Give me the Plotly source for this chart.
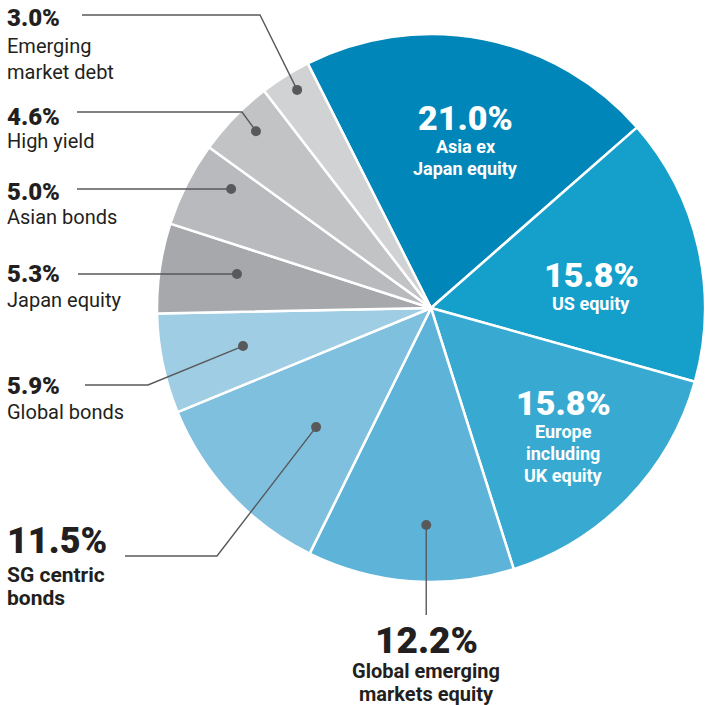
import math
import plotly.graph_objects as go

# ---- data ----
categories = ["Asia ex Japan equity", "US equity", "Europe including UK equity",
              "Global emerging markets equity", "SG centric bonds", "Global bonds",
              "Japan equity", "Asian bonds", "High yield", "Emerging market debt"]
values = [21.0, 15.8, 15.8, 12.2, 11.5, 5.9, 5.3, 5.0, 4.6, 3.0]
label_lines = [["Asia ex", "Japan equity"], ["US equity"], ["Europe", "including", "UK equity"],
               ["Global emerging", "markets equity"], ["SG centric", "bonds"], ["Global bonds"],
               ["Japan equity"], ["Asian bonds"], ["High yield"], ["Emerging", "market debt"]]
colors = ["#0086b8", "#14a0cb", "#38aad1", "#5eb4d8", "#7fc0de", "#9ecde4",
          "#a7a8ab", "#b9babd", "#c1c3c5", "#d1d2d4"]

# ---- layout helpers ----
W = H = 705
CX, CY, R = 431, 308, 274
ROTATION = -26.75
INK = "#231f20"
LINE = "#58595b"
FONT = "Roboto"


def px(x):
    return x / W


def py(y):
    return 1 - y / H


total = sum(values)
mids = []
cum = 0.0
for v in values:
    mids.append(ROTATION + (cum + v / 2) / total * 360)
    cum += v

fig = go.Figure(go.Pie(
    labels=categories, values=values, sort=False, direction="clockwise",
    rotation=ROTATION, marker=dict(colors=colors, line=dict(color="white", width=2.5)),
    textinfo="none", hoverinfo="label+value", showlegend=False,
    domain=dict(x=[px(CX - R), px(CX + R)], y=[py(CY + R), py(CY - R)]),
))

annotations = []
shapes = []


def text(x, y, s, size, weight=400, color=INK, xanchor="center"):
    annotations.append(dict(
        x=px(x), y=py(y), xref="paper", yref="paper", text=s,
        showarrow=False, xanchor=xanchor, yanchor="middle",
        font=dict(family=FONT, size=size, color=color, weight=weight),
        borderpad=0, borderwidth=0))


PCT_W = 900
LBL_B = 700

# inside labels: (index, x, pct_y, pct_size, line ys, line size)
inside = [
    (0, 466, 118, 34, [147, 168], 18),
    (1, 591, 275, 34, [303], 18),
    (2, 563, 403, 34, [431, 453, 475], 18),
]
for i, x, pyy, ps, lys, ls in inside:
    text(x, pyy, "%.1f%%" % values[i], ps, weight=PCT_W, color="white")
    for ln, ly in zip(label_lines[i], lys):
        text(x, ly, ln, ls, weight=LBL_B, color="white")

# outside callouts
# (idx, text_x, pct_y, pct_size, line ys, line size, line weight, angle nudge, r frac, path points before dot)
outside = [
    (9, 7, 18, 24, [46, 72], 20, 400, 0.6, 0.934, [(82, 15), (260, 15)]),
    (8, 7, 117, 24, [141], 20, 400, 1.1, 0.908, [(77, 112), (242, 112)]),
    (7, 7, 192, 24, [217], 20, 400, 3.85, 0.849, [(77, 189)]),
    (6, 7, 274, 24, [300], 20, 400, 1.55, 0.719, [(78, 274)]),
    (5, 7, 386, 24, [412], 20, 400, 0.3, 0.700, [(85, 385), (148, 385)]),
    (4, 7, 541, 36, [575, 598], 21, LBL_B, -3.0, 0.604, [(125, 556), (217, 556)]),
]
for i, tx, pyy, ps, lys, ls, lw, nudge, frac, pts in outside:
    text(tx, pyy, "%.1f%%" % values[i], ps, weight=PCT_W, xanchor="left")
    for ln, ly in zip(label_lines[i], lys):
        text(tx, ly, ln, ls, weight=lw, xanchor="left")
    a = math.radians(mids[i] + nudge)
    dx = CX + frac * R * math.sin(a)
    dy = CY - frac * R * math.cos(a)
    allp = pts + [(dx, dy)]
    path = "M " + " L ".join("%f,%f" % (px(x), py(y)) for x, y in allp)
    shapes.append(dict(type="path", path=path, xref="paper", yref="paper",
                       line=dict(color=LINE, width=1.4)))
    shapes.append(dict(type="circle", xref="paper", yref="paper",
                       x0=px(dx - 5), x1=px(dx + 5), y0=py(dy + 5), y1=py(dy - 5),
                       fillcolor=LINE, line=dict(width=0)))

# bottom callout (Global emerging markets equity)
i = 3
a = math.radians(mids[i] - 3.1)
dx = CX + 0.792 * R * math.sin(a)
dy = CY - 0.792 * R * math.cos(a)
shapes.append(dict(type="line", xref="paper", yref="paper", x0=px(dx), y0=py(dy),
                   x1=px(dx), y1=py(615), line=dict(color=LINE, width=1.4)))
shapes.append(dict(type="circle", xref="paper", yref="paper",
                   x0=px(dx - 5), x1=px(dx + 5), y0=py(dy + 5), y1=py(dy - 5),
                   fillcolor=LINE, line=dict(width=0)))
text(dx, 640, "%.1f%%" % values[i], 37, weight=PCT_W)
for ln, ly in zip(label_lines[i], [671, 694]):
    text(dx, ly, ln, 20, weight=LBL_B)

fig.update_layout(
    width=W, height=H, margin=dict(l=0, r=0, t=0, b=0),
    paper_bgcolor="white", plot_bgcolor="white",
    annotations=annotations, shapes=shapes,
)
fig.write_html("out.html", config={"displayModeBar": False})
